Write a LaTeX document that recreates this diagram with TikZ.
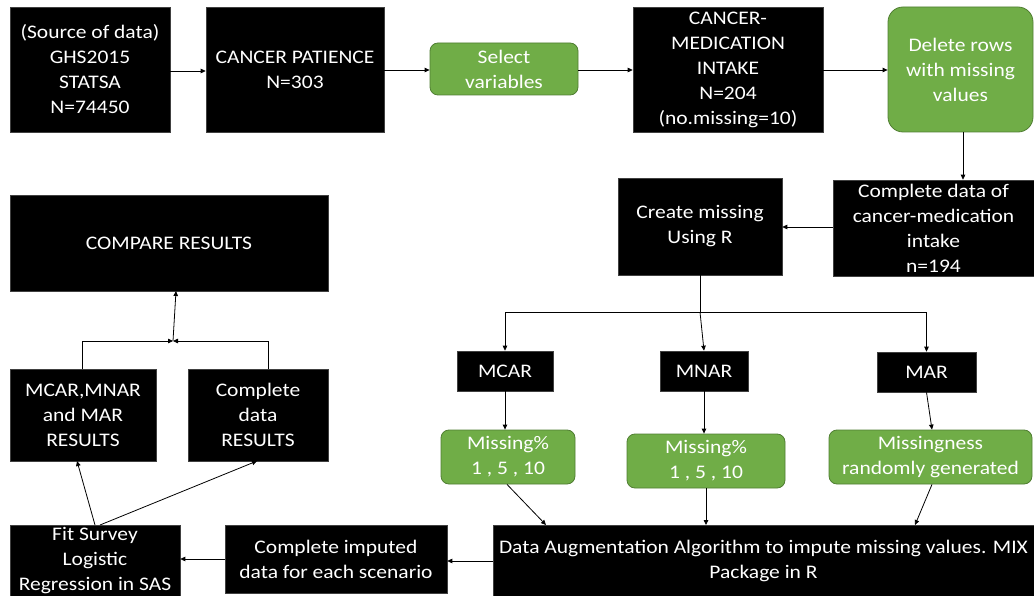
\documentclass[tikz,border=0pt]{standalone}
\usepackage{fontspec}
\setmainfont{Carlito}[FakeStretch=1.12]
\usetikzlibrary{arrows.meta}
\definecolor{gfill}{HTML}{70AD47}
\definecolor{gline}{HTML}{507E32}
\definecolor{bline}{HTML}{404040}
\begin{document}
\begin{tikzpicture}[x=1pt,y=-1pt,
  txt/.style={font=\fontsize{19.2}{25}\selectfont},
  box/.style={txt, draw=bline, line width=0.6pt, fill=black, text=white, align=center, inner sep=0pt},
  gbox/.style={txt, draw=gline, line width=0.8pt, fill=gfill, text=white, align=center, inner sep=0pt, rounded corners=8pt},
  arr/.style={-{Triangle[length=5pt,width=4.5pt]}, line width=0.8pt},
  ln/.style={line width=0.8pt}]
\useasboundingbox (0,0) rectangle (1034,596);
% top row
\node[box, minimum width=160pt, minimum height=125pt] (src) at (90,69.5) {(Source of data)\\GHS2015\\STATSA\\N=74450};
\node[box, minimum width=178pt, minimum height=125pt] (pat) at (295,69.5) {CANCER PATIENCE\\N=303};
\node[gbox, minimum width=148pt, minimum height=52pt] (sel) at (504,69) {Select\\variables};
\node[box, minimum width=190pt, minimum height=125pt] (med) at (728,69.5) {CANCER-\\MEDICATION\\INTAKE\\N=204\\(no.missing=10)};
\node[gbox, rounded corners=15pt, minimum width=145pt, minimum height=125pt] (del) at (960.5,69.5) {Delete rows\\with missing\\values};
% second row
\node[box, minimum width=201pt, minimum height=96pt] (comp) at (933.5,228) {Complete data of\\cancer-medication\\intake\\n=194};
\node[box, minimum width=164pt, minimum height=97pt] (crm) at (700,226.5) {Create missing\\Using R};
\node[box, minimum width=318pt, minimum height=96pt] (cmpr) at (169,243) {COMPARE RESULTS};
% mechanisms
\node[box, minimum width=96pt, minimum height=40pt] (mcar) at (505,371) {MCAR};
\node[box, minimum width=88pt, minimum height=40pt] (mnar) at (704,371) {MNAR};
\node[box, minimum width=99pt, minimum height=40pt] (mar) at (926.5,372) {MAR};
\node[gbox, minimum width=134pt, minimum height=54pt] (g1) at (508,457) {Missing\%\\1 , 5 , 10};
\node[gbox, minimum width=158pt, minimum height=54pt] (g2) at (706,461) {Missing\%\\1 , 5 , 10};
\node[gbox, minimum width=203pt, minimum height=54pt] (g3) at (930.5,457) {Missingness\\randomly generated};
% results
\node[box, minimum width=146pt, minimum height=92pt] (mres) at (83,415) {MCAR,MNAR\\and MAR\\RESULTS};
\node[box, minimum width=140pt, minimum height=92pt] (cres) at (258,415) {Complete\\data\\RESULTS};
% bottom row
\node[box, minimum width=170pt, minimum height=71pt] (fit) at (95,560.5) {Fit Survey\\Logistic\\Regression in SAS};
\node[box, minimum width=222pt, minimum height=68pt] (imp) at (336,559) {Complete imputed\\data for each scenario};
\node[box, minimum width=541pt, minimum height=71pt] (dag) at (763.5,560.5) {Data Augmentation Algorithm to impute missing values. MIX\\Package in R};
% coordinates
\coordinate (br) at (700,312);
\coordinate (mg) at (173,341);
\coordinate (ct) at (176,291);
\coordinate (crt) at (268,369);
\coordinate (d1) at (546,525);
\coordinate (d2) at (706,525);
\coordinate (d3) at (915,525);
\coordinate (f1) at (95,525);
\coordinate (f2) at (100,525);
\coordinate (m1) at (77,461);
\coordinate (c1) at (257,461);
\coordinate (mrt) at (82,369);
% connectors
\draw[arr] (src.east |- 0,71) -- (pat.west |- 0,71);
\draw[arr] (pat.east |- 0,70) -- (sel.west |- 0,70);
\draw[arr] (sel.east |- 0,70) -- (med.west |- 0,70);
\draw[arr] (med.east |- 0,70) -- (del.west |- 0,70);
\draw[arr] (del.south -| 963,0) -- (comp.north -| 963,0);
\draw[arr] (comp.west |- 0,227) -- (crm.east |- 0,227);
\draw[ln] (crm.south) -- (br);
\draw[arr] (br) -| (mcar.north);
\draw[arr] (br) -| (mar.north);
\draw[arr] (br) -- (mnar.north);
\draw[arr] (mcar.south) -- (g1.north -| mcar.south);
\draw[arr] (mnar.south) -- (g2.north -| mnar.south);
\draw[arr] (mar.south) -- (g3.north -| 932,0);
\draw[arr] (g1.south -| 507,0) -- (d1);
\draw[arr] (g2.south) -- (d2);
\draw[arr] (g3.south -| 932,0) -- (d3);
\draw[arr] (dag.west |- 0,561) -- (imp.east |- 0,561);
\draw[arr] (imp.west |- 0,559) -- (fit.east |- 0,559);
\draw[arr] (f1) -- (m1);
\draw[arr] (f2) -- (c1);
\draw[arr] (mrt) |- (mg);
\draw[arr] (crt) |- (mg);
\draw[arr] (mg) -- (ct);
\end{tikzpicture}
\end{document}
